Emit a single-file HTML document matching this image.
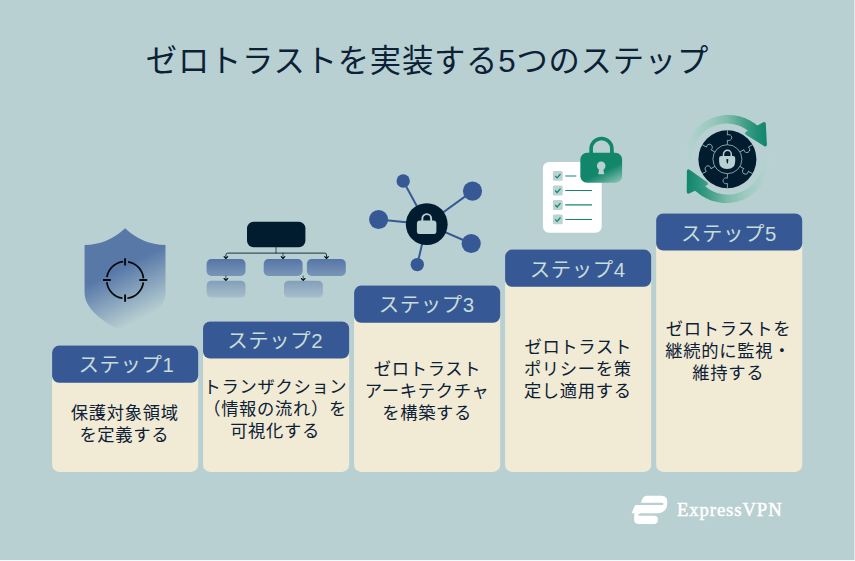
<!DOCTYPE html>
<html lang="ja">
<head>
<meta charset="utf-8">
<title>ゼロトラストを実装する5つのステップ</title>
<style>
html,body{margin:0;padding:0;background:#fff;}
body{width:855px;height:561px;overflow:hidden;position:relative;font-family:"Liberation Sans","Noto Sans CJK JP",sans-serif;}
#title{position:absolute;left:-0.5px;top:37.5px;width:855px;text-align:center;font-size:31.3px;line-height:48px;color:#0c2036;font-weight:400;white-space:nowrap;letter-spacing:0.8px;text-indent:0.8px;}
.hd{position:absolute;width:160px;height:37px;color:#c8dcd8;font-size:20.4px;line-height:37px;text-align:center;font-weight:400;white-space:nowrap;letter-spacing:0.6px;text-indent:0.6px;}
.tx{position:absolute;width:180px;text-align:center;font-size:17.3px;line-height:21.7px;color:#0c2036;white-space:nowrap;letter-spacing:0.7px;text-indent:0.7px;}
#icons{position:absolute;left:0;top:0;}
#brand{position:absolute;left:677px;top:499.2px;font-family:"Liberation Serif",serif;font-size:18.7px;line-height:22px;color:#ffffff;white-space:nowrap;letter-spacing:0.9px;-webkit-text-stroke:0.5px #ffffff;}
</style>
</head>
<body>

<svg id="icons" width="855" height="561" viewBox="0 0 855 561">
<defs>
<linearGradient id="gShield" gradientUnits="userSpaceOnUse" x1="165.5" y1="245.5" x2="190.3" y2="294.5"><stop offset="0" stop-color="#5878a8"/><stop offset="1" stop-color="#b8d0d2"/></linearGradient>
<linearGradient id="gFlow" gradientUnits="userSpaceOnUse" x1="0" y1="259" x2="0" y2="305"><stop offset="0" stop-color="#5575a7"/><stop offset="1" stop-color="#b6cdd1"/></linearGradient>
<linearGradient id="gLock" gradientUnits="userSpaceOnUse" x1="615" y1="166" x2="624.5" y2="185.5"><stop offset="0" stop-color="#11866b"/><stop offset="1" stop-color="#b0d3ca"/></linearGradient>
<linearGradient id="gArcT" gradientUnits="userSpaceOnUse" x1="684" y1="0" x2="766" y2="0"><stop offset="0" stop-color="#b9d3d2"/><stop offset="0.317" stop-color="#9bcbbe"/><stop offset="0.524" stop-color="#7fbcad"/><stop offset="0.73" stop-color="#46a08a"/><stop offset="0.878" stop-color="#239178"/><stop offset="1" stop-color="#12866b"/></linearGradient>
</defs>
<rect x="0" y="0" width="854.45" height="560.12" fill="#b8d0d2"/>
<g id="cards">
<rect x="52.1" y="345.6" width="146.1" height="126.3" rx="7" fill="#f1ead4"/>
<rect x="52.1" y="345.6" width="146.1" height="37.1" rx="7" fill="#365996"/>
<rect x="203.05" y="321.5" width="146.1" height="150.4" rx="7" fill="#f1ead4"/>
<rect x="203.05" y="321.5" width="146.1" height="37.1" rx="7" fill="#365996"/>
<rect x="354.1" y="285.6" width="146.1" height="186.3" rx="7" fill="#f1ead4"/>
<rect x="354.1" y="285.6" width="146.1" height="37.1" rx="7" fill="#365996"/>
<rect x="505.1" y="249.6" width="146.1" height="222.3" rx="7" fill="#f1ead4"/>
<rect x="505.1" y="249.6" width="146.1" height="37.1" rx="7" fill="#365996"/>
<rect x="656.15" y="213.4" width="146.1" height="258.5" rx="7" fill="#f1ead4"/>
<rect x="656.15" y="213.4" width="146.1" height="37.1" rx="7" fill="#365996"/>
</g>

<!-- step 1: shield -->
<g id="ic1">
<path d="M84.6,245 Q108,244.5 125.1,228.2 Q142.2,244.5 165.5,245 L165.5,293 C165.5,311 141,325.5 125.1,332.5 C109,325.5 84.6,311 84.6,293 Z" fill="url(#gShield)"/>
<circle cx="125.1" cy="280" r="18.4" fill="none" stroke="#05090d" stroke-width="1.7" stroke-dasharray="23.9 5" stroke-dashoffset="-2.5"/>
<path d="M125.1,258.2V265.4 M125.1,294.6V301.8 M103,280H110.8 M139.4,280H147.2" stroke="#05090d" stroke-width="1.9" fill="none"/>
</g>

<!-- step 2: flow chart -->
<g id="ic2">
<rect x="247" y="221.8" width="58.4" height="25.4" rx="6.5" fill="#011c2e"/>
<g fill="url(#gFlow)">
<rect x="206.6" y="259" width="38.9" height="16.9" rx="4.7"/>
<rect x="263.7" y="259" width="38.9" height="16.9" rx="4.7"/>
<rect x="306.9" y="259" width="38.9" height="16.9" rx="4.7"/>
<rect x="206.6" y="280.7" width="38.9" height="16.9" rx="4.7"/>
<rect x="284" y="280.7" width="38.9" height="16.9" rx="4.7"/>
</g>
<g fill="none" stroke="#12283a" stroke-width="0.75" stroke-linecap="round" stroke-linejoin="round">
<path d="M276,247.2V253.1"/>
<path stroke-width="0.95" d="M225.9,258.2V254.9Q225.9,253.1 227.7,253.1H324.7Q326.5,253.1 326.5,254.9V258.2"/>
<path d="M283,253.1V258.2"/>
<path d="M225.9,276V280.2 M303.2,276V280.2"/>
<path stroke="#04121d" stroke-width="1.15" d="M224.1,256.6L225.9,258.5L227.7,256.6 M281.2,256.6L283,258.5L284.8,256.6 M324.7,256.6L326.5,258.5L328.3,256.6 M224.1,278.5L225.9,280.4L227.7,278.5 M301.4,278.5L303.2,280.4L305,278.5"/>
</g>
</g>

<!-- step 3: network -->
<g id="ic3">
<g stroke="#365996" stroke-width="2" fill="none">
<path d="M426.7,224.2L403.2,181 M426.7,224.2L472.5,191.1 M426.7,224.2L378.6,219.5 M426.7,224.2L471.2,243.5 M426.7,224.2L417.3,264.6"/>
</g>
<g fill="#365996">
<circle cx="403.2" cy="181" r="6.7"/>
<circle cx="472.5" cy="191.1" r="9.6"/>
<circle cx="378.6" cy="219.5" r="9.5"/>
<circle cx="471.2" cy="243.5" r="9.6"/>
<circle cx="417.3" cy="264.6" r="6.7"/>
</g>
<circle cx="426.75" cy="224.15" r="20.9" fill="#011c2e"/>
<rect x="416.9" y="220.5" width="19.5" height="13.6" rx="3.2" fill="#b8d0d2"/>
<path d="M422.35,221.5V218.5A4.4 4.4 0 0 1 431.15,218.5V221.5" fill="none" stroke="#b8d0d2" stroke-width="1.9"/>
</g>

<!-- step 4: checklist + lock -->
<g id="ic4">
<rect x="542.9" y="161.9" width="58.8" height="70.8" rx="6.2" fill="#ffffff"/>
<g fill="#bcd3d3">
<rect x="552.9" y="171" width="9.8" height="9.8" rx="1.5"/>
<rect x="552.9" y="185.6" width="9.8" height="9.8" rx="1.5"/>
<rect x="552.9" y="200.1" width="9.8" height="9.8" rx="1.5"/>
<rect x="552.9" y="214.5" width="9.8" height="9.8" rx="1.5"/>
</g>
<g fill="none" stroke="#12866b" stroke-width="1.2">
<path d="M565.3,176H576.3 M565.3,190.5H592 M565.3,204.9H592 M565.3,219.5H592"/>
<path d="M555.2,175.9l1.9,2 3.4,-3.9 M555.2,190.5l1.9,2 3.4,-3.9 M555.2,205l1.9,2 3.4,-3.9 M555.2,219.4l1.9,2 3.4,-3.9" stroke-width="1.2"/>
</g>
<path d="M591.1,154V148.9A10.4 10.4 0 0 1 611.9,148.9V154" fill="none" stroke="#11866b" stroke-width="3.7"/>
<rect x="580.35" y="152.8" width="41.75" height="29.95" rx="6.6" fill="url(#gLock)"/>
<g fill="#b8d0d2"><circle cx="601.2" cy="165.85" r="4.3"/><path d="M599.3,168L603.1,168L604.2,174.2L598.2,174.2Z"/></g>
</g>

<!-- step 5: cycle -->
<g id="ic5">
<g><path d="M684.8,159.1L684.8,156.6L685.0,154.1L685.3,151.6L685.8,149.2L686.4,146.7L687.1,144.3L688.0,142.0L689.0,139.7L690.2,137.5L691.4,135.3L692.8,133.2L694.4,131.2L696.0,129.3L697.8,127.5L699.6,125.8L701.6,124.2L703.6,122.7L705.8,121.3L708.0,120.1L710.3,118.9L712.6,118.0L715.0,117.1L717.5,116.4L720.0,115.8L722.5,115.4L725.1,115.1L727.6,115.0L730.2,115.0L732.8,115.2L735.4,115.5L737.9,116.0L740.4,116.6L742.9,117.4L745.4,118.3L747.7,119.4L750.1,120.5L752.3,121.9L754.5,123.3L756.6,124.9L758.6,126.6L751.5,133.9L750.1,132.5L748.5,131.2L746.9,130.0L745.2,128.8L743.4,127.8L741.6,126.8L739.7,126.0L737.7,125.3L735.8,124.7L733.8,124.2L731.7,123.9L729.7,123.7L727.6,123.5L725.5,123.6L723.4,123.7L721.4,123.9L719.3,124.3L717.3,124.8L715.3,125.4L713.3,126.2L711.4,127.0L709.6,128.0L707.8,129.0L706.0,130.2L704.4,131.5L702.8,132.9L701.3,134.3L699.9,135.9L698.6,137.5L697.3,139.2L696.2,141.0L695.2,142.8L694.3,144.7L693.5,146.7L692.8,148.7L692.2,150.7L691.8,152.8L691.5,154.8L691.3,156.9L691.2,159.1A3.2 3.2 0 0 1 684.8,159.1Z" fill="url(#gArcT)"/><path d="M764.1,123.8L746.8,133.2L765.2,144.7Z" fill="url(#gArcT)" stroke="url(#gArcT)" stroke-width="3.4" stroke-linejoin="round"/></g>
<g transform="rotate(180 727.3 159.05)"><path d="M684.8,159.1L684.8,156.5L685.0,154.0L685.3,151.4L685.8,148.9L686.5,146.4L687.2,144.0L688.2,141.6L689.2,139.2L690.5,137.0L691.8,134.8L693.3,132.6L694.9,130.6L696.6,128.7L698.4,126.9L700.4,125.1L702.4,123.5L704.6,122.1L706.8,120.7L709.1,119.5L711.5,118.4L714.0,117.5L716.5,116.7L719.0,116.1L721.6,115.6L724.2,115.3L726.8,115.1L729.5,115.1L732.1,115.2L734.7,115.5L737.3,116.0L739.9,116.6L742.5,117.3L745.0,118.2L747.4,119.3L749.8,120.5L752.2,121.9L754.4,123.3L756.5,125.0L758.6,126.7L760.6,128.6L753.0,135.5L751.6,133.9L750.1,132.5L748.5,131.1L746.8,129.8L745.1,128.7L743.2,127.6L741.3,126.7L739.4,125.9L737.4,125.2L735.3,124.6L733.3,124.1L731.2,123.8L729.0,123.6L726.9,123.5L724.8,123.6L722.7,123.7L720.5,124.1L718.4,124.5L716.4,125.1L714.4,125.8L712.4,126.6L710.4,127.5L708.6,128.5L706.8,129.7L705.0,131.0L703.4,132.3L701.8,133.8L700.3,135.4L698.9,137.0L697.6,138.8L696.5,140.6L695.4,142.4L694.4,144.4L693.6,146.4L692.9,148.4L692.3,150.5L691.8,152.6L691.5,154.7L691.3,156.9L691.2,159.1A3.2 3.2 0 0 1 684.8,159.1Z" fill="url(#gArcT)"/><g transform="rotate(3.5 727.3 159.05)"><path d="M764.1,123.8L746.8,133.2L765.2,144.7Z" fill="url(#gArcT)" stroke="url(#gArcT)" stroke-width="3.4" stroke-linejoin="round"/></g></g>
<circle cx="727.4" cy="159.2" r="29" fill="#011c2e"/>
<g fill="none" stroke="#b8d0d2" stroke-width="0.75" stroke-opacity="0.95">
<circle cx="727.4" cy="159.2" r="14.5"/>
<path transform="translate(727.4 159.2) rotate(0)" d="M0,-29V-24.2A2.95 2.95 0 1 1 0,-19V-14.5"/>
<path transform="translate(727.4 159.2) rotate(60)" d="M0,-29V-24.2A2.95 2.95 0 1 1 0,-19V-14.5"/>
<path transform="translate(727.4 159.2) rotate(120)" d="M0,-29V-24.2A2.95 2.95 0 1 1 0,-19V-14.5"/>
<path transform="translate(727.4 159.2) rotate(180)" d="M0,-29V-24.2A2.95 2.95 0 1 1 0,-19V-14.5"/>
<path transform="translate(727.4 159.2) rotate(240)" d="M0,-29V-24.2A2.95 2.95 0 1 1 0,-19V-14.5"/>
<path transform="translate(727.4 159.2) rotate(300)" d="M0,-29V-24.2A2.95 2.95 0 1 1 0,-19V-14.5"/>
</g>
<path d="M723.5,157V154.2A3.9 3.9 0 0 1 731.3,154.2V157" fill="none" stroke="#b8d0d2" stroke-width="1.5"/>
<path d="M719.1,158Q719.1,156 721.1,156H733.2Q735.2,156 735.2,158V161.2Q735.2,168.9 727.15,168.9Q719.1,168.9 719.1,161.2Z" fill="#b8d0d2"/>
<path d="M727.35,159.1a1 1 0 0 1 0.95,1.3l-0.55,3.1h-0.8l-0.55,-3.1a1 1 0 0 1 0.95,-1.3z" fill="#011c2e"/>
</g>

<!-- brand mark -->
<g id="logo" transform="translate(628 490) scale(0.07133)" fill="#ffffff">
<path d="M205,120Q222,82 262,82L465,82Q552,82 552,172Q552,327 400,327L60,327Q50,327 56,312L96,222Q101,210 115,210L480,210Q497,210 497,195Q497,180 480,180L195,180Q178,180 184,166Z"/>
<path d="M92,320L165,320L165,335Q140,335 140,347Q140,360 165,360L365,360Q420,360 420,417Q420,475 365,475L145,475Q85,475 85,415Q85,365 92,320Z"/>
</g>
</svg>
<div id="title">ゼロトラストを実装する5つのステップ</div>
<div class="hd" style="left:46.10px;top:346.5px;">ステップ1</div>
<div class="tx" style="left:34.35px;top:403.2px;">保護対象領域<br>を定義する</div>
<div class="hd" style="left:195.00px;top:323.4px;">ステップ2</div>
<div class="tx" style="left:185.10px;top:377.1px;">トランザクション<br>（情報の流れ）を<br>可視化する</div>
<div class="hd" style="left:346.50px;top:286.5px;">ステップ3</div>
<div class="tx" style="left:337.15px;top:359.1px;">ゼロトラスト<br>アーキテクチャ<br>を構築する</div>
<div class="hd" style="left:497.40px;top:251.5px;">ステップ4</div>
<div class="tx" style="left:487.85px;top:335.5px;line-height:22px;">ゼロトラスト<br>ポリシーを策<br>定し適用する</div>
<div class="hd" style="left:648.65px;top:216.3px;">ステップ5</div>
<div class="tx" style="left:638.20px;top:318.3px;line-height:22px;">ゼロトラストを<br>継続的に監視・<br>維持する</div>
<div id="brand">ExpressVPN</div>
</body>
</html>
